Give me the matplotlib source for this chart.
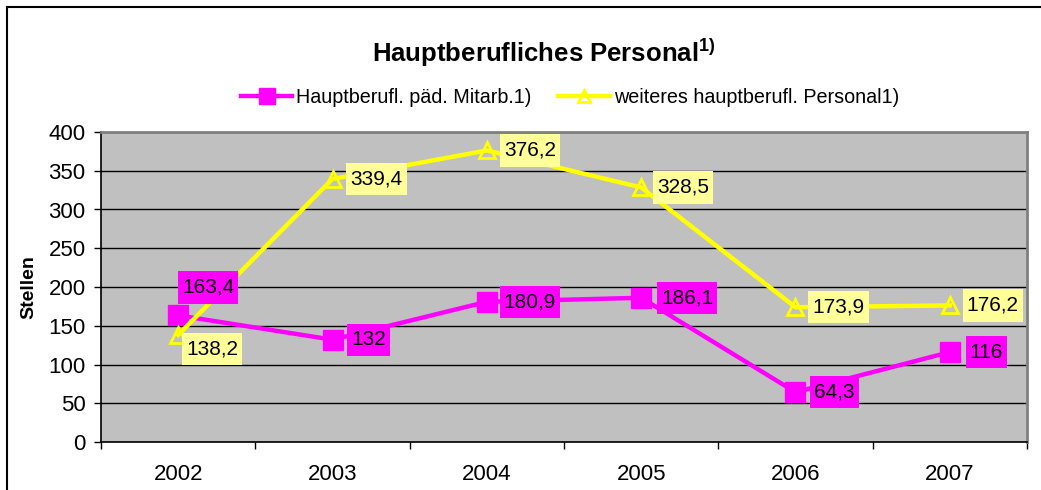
import matplotlib
matplotlib.use("Agg")
import matplotlib.pyplot as plt
from matplotlib.lines import Line2D
from matplotlib.path import Path
import numpy as np

plt.rcParams['font.family'] = ['Liberation Sans', 'DejaVu Sans']
plt.rcParams['mathtext.fontset'] = 'custom'
plt.rcParams['mathtext.rm'] = 'Liberation Sans'
plt.rcParams['mathtext.bf'] = 'Liberation Sans:bold'

years = ['2002', '2003', '2004', '2005', '2006', '2007']
paed = [163.4, 132, 180.9, 186.1, 64.3, 116]
weitere = [138.2, 339.4, 376.2, 328.5, 173.9, 176.2]
paed_labels = ['163,4', '132', '180,9', '186,1', '64,3', '116']
weitere_labels = ['138,2', '339,4', '376,2', '328,5', '173,9', '176,2']

MAG = '#FF00FF'
YEL = '#FFFF00'


def label_box(x0, y0, width, height, mutation_size):
    # Excel-like label box: little side padding, more above and below
    px = 0.2 * mutation_size
    py = 0.32 * mutation_size
    return Path([(x0 - px, y0 - py), (x0 + width + px, y0 - py),
                 (x0 + width + px, y0 + height + py), (x0 - px, y0 + height + py),
                 (x0 - px, y0 - py)], closed=True)


fig = plt.figure(figsize=(10.41, 4.9), dpi=100)
ax = fig.add_axes([101 / 1041, 48 / 490, 926 / 1041, 310 / 490])
ax.set_facecolor('#C0C0C0')

x = np.arange(len(years))
ax.plot(x, paed, color=MAG, lw=3.2, marker='s', ms=15, mec=MAG, mfc=MAG,
        label='Hauptberufl. päd. Mitarb.1)', zorder=3)
ax.plot(x, weitere, color=YEL, lw=3.2, marker='^', ms=11, mec=YEL, mfc='none',
        mew=2, label='weiteres hauptberufl. Personal1)', zorder=4)

# data labels (offsets in pixels, mostly right of the point)
paed_off = [(4, 28), (19, 0), (17, 0), (20, 0), (19, 0), (20, 0)]
weit_off = [(8, -14), (18, 0), (17, 0), (16, 0), (17, 0), (17, 0)]
for i in range(len(years)):
    ax.annotate(paed_labels[i], (x[i], paed[i]), xytext=paed_off[i],
                textcoords='offset pixels', ha='left', va='center', fontsize=15,
                bbox=dict(boxstyle=label_box, fc=MAG, ec='none'), zorder=6)
    ax.annotate(weitere_labels[i], (x[i], weitere[i]), xytext=weit_off[i],
                textcoords='offset pixels', ha='left', va='center', fontsize=15,
                bbox=dict(boxstyle=label_box, fc='#FFFF99', ec='none'), zorder=6)

ax.set_xlim(-0.5, 5.5)
ax.set_ylim(0, 400)
ax.set_yticks(np.arange(0, 401, 50))
ax.yaxis.grid(True, color='black', lw=1)
ax.set_axisbelow(True)

ax.set_xticks(np.arange(-0.5, 6, 1))
ax.set_xticklabels([])
ax.set_xticks(x, minor=True)
ax.set_xticklabels(years, minor=True)
ax.tick_params(axis='x', which='major', direction='out', length=5, width=1)
ax.tick_params(axis='x', which='minor', length=0, pad=16, labelsize=16)
ax.tick_params(axis='y', direction='out', length=5, width=1, pad=6, labelsize=16)

for s in ['top', 'right']:
    ax.spines[s].set_color('#808080')
    ax.spines[s].set_linewidth(2)
for s in ['left', 'bottom']:
    ax.spines[s].set_color('black')
    ax.spines[s].set_linewidth(1.2)

ax.set_ylabel('Stellen', fontsize=14, fontweight='bold')
ax.yaxis.set_label_coords(-0.069, 0.5)

fig.text(0.522, 0.873, r'Hauptberufliches Personal$^{\mathbf{1)}}$',
         ha='center', va='baseline', fontsize=18.5, fontweight='bold')

fig.legend(loc='center', bbox_to_anchor=(0.5476, 0.802), ncol=2, frameon=False,
           fontsize=14.2, handlelength=2.6, handletextpad=0.2, columnspacing=1.35,
           markerscale=0.75)

# outer frame
fig.add_artist(Line2D([7 / 1041, 1], [483 / 490, 483 / 490], color='black', lw=1.5,
                      transform=fig.transFigure))
fig.add_artist(Line2D([7 / 1041, 7 / 1041], [0, 483 / 490], color='black', lw=1.5,
                      transform=fig.transFigure))

fig.savefig('out.png', dpi=100)
